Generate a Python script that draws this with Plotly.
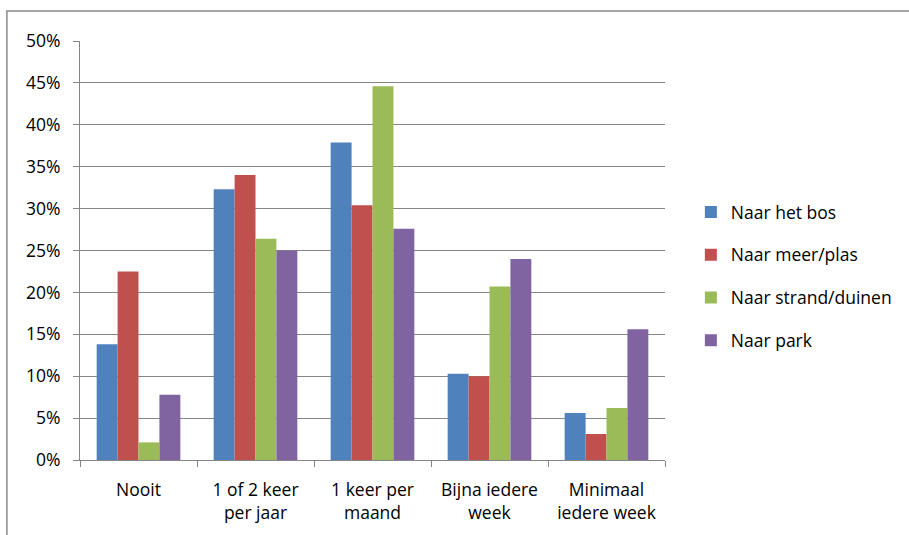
import plotly.graph_objects as go

categories = ["Nooit", "1 of 2 keer<br>per jaar", "1 keer per<br>maand", "Bijna iedere<br>week", "Minimaal<br>iedere week"]
series_names = ["Naar het bos", "Naar meer/plas", "Naar strand/duinen", "Naar park"]
bos = [0.138, 0.323, 0.379, 0.103, 0.056]
meer = [0.225, 0.340, 0.304, 0.100, 0.031]
strand = [0.021, 0.264, 0.446, 0.207, 0.062]
park = [0.078, 0.250, 0.276, 0.240, 0.156]
colors = ["#4F81BD", "#C0504D", "#9BBB59", "#8064A2"]

W, H = 909, 535
L, R, T, B = 80, 241, 41, 75
pw, ph = W - L - R, H - T - B

fig = go.Figure()
for name, vals, col in zip(series_names, [bos, meer, strand, park], colors):
    fig.add_trace(go.Bar(x=categories, y=vals, name=name, marker_color=col,
                         marker_line_width=0, legendgroup=name))

def px_x(x):
    return (x - L) / pw

def px_y(y):
    return (H - B - y) / ph

fig.add_shape(type="rect", xref="paper", yref="paper",
              x0=px_x(6.5), x1=px_x(915), y0=px_y(540), y1=px_y(11),
              line=dict(color="#8a8a8a", width=1.5), fillcolor="rgba(0,0,0,0)", layer="below")

fig.update_layout(
    width=W, height=H,
    margin=dict(l=L, r=R, t=T, b=B),
    paper_bgcolor="white", plot_bgcolor="white",
    font=dict(family="Open Sans, sans-serif", size=17.5, color="black"),
    barmode="group", bargap=0.285, bargroupgap=0,
    showlegend=True,
    legend=dict(x=px_x(694), y=px_y(276), xanchor="left", yanchor="middle",
                tracegroupgap=17, font=dict(size=17.5), bgcolor="rgba(0,0,0,0)"),
    xaxis=dict(showline=True, linecolor="#868686", linewidth=1, ticks="outside",
               tickson="boundaries", ticklen=6, tickcolor="#868686", showgrid=False,
               automargin=False, ticklabelstandoff=14),
    yaxis=dict(range=[0, 0.5], dtick=0.05, tickformat=".0%", showline=True,
               linecolor="#868686", linewidth=1, ticks="outside", ticklen=6,
               tickcolor="#868686", showgrid=True, gridcolor="#868686", gridwidth=1,
               zeroline=False, automargin=False, ticklabelstandoff=9),
)

fig.write_html("out.html", config={"displayModeBar": False},
               post_script="document.body.style.margin='0';document.body.style.overflow='hidden';")
